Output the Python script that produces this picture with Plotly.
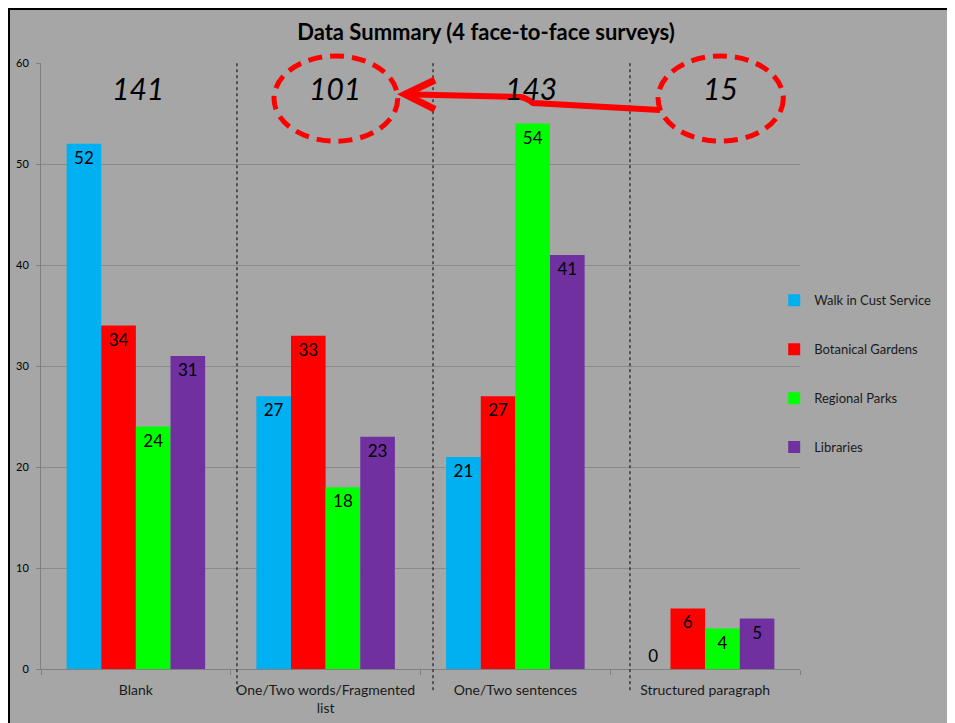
import plotly.graph_objects as go

# survey response categories and counts per location
categories = ["Blank", "One/Two words/Fragmented<br>list", "One/Two sentences", "Structured paragraph"]
walk_in = [52, 27, 21, 0]
botanical = [34, 33, 27, 6]
regional = [24, 18, 54, 4]
libraries = [31, 23, 41, 5]

series = [
    ("Walk in Cust Service", walk_in, "#00b0f0"),
    ("Botanical Gardens", botanical, "#ff0000"),
    ("Regional Parks", regional, "#00ff00"),
    ("Libraries", libraries, "#7030a0"),
]

# totals per category, shown in italics above each group
totals = [sum(v) for v in zip(walk_in, botanical, regional, libraries)]

fig = go.Figure()
for i, (name, vals, col) in enumerate(series):
    pos = ["inside" if v > 0 else "outside" for v in vals]
    fig.add_trace(go.Bar(x=categories, y=vals, name=name, marker_color=col,
                         marker_line_width=0, text=vals, textposition=pos,
                         insidetextanchor="end", textangle=0, constraintext="none",
                         textfont=dict(size=17, color="black"),
                         legendgroup="g%d" % i))

# italic totals
tot_shift = [0.01, 0.05, 0.08, 0.08]
for i, t in enumerate(totals):
    fig.add_annotation(x=i + tot_shift[i], y=0.9587, yref="paper", yanchor="middle",
                       text="<i>%d</i>" % t, showarrow=False,
                       font=dict(size=30, color="black"))

shapes = []
# black frame of the slide (page margin gives the white strip)
shapes.append(dict(type="line", xref="paper", yref="paper", x0=-0.0428, x1=-0.0428, y0=-0.2, y1=1.1,
                   line=dict(color="black", width=3)))
shapes.append(dict(type="line", xref="paper", yref="paper", x0=-0.05, x1=1.3, y0=1.090, y1=1.090,
                   line=dict(color="black", width=3)))

# dashed separators
for xp in [0.2582, 0.5165, 0.776]:
    shapes.append(dict(type="line", xref="paper", yref="paper", x0=xp, x1=xp, y0=-0.035, y1=1.0,
                       line=dict(color="black", width=1, dash="3px,3px")))

# red dashed ellipses
for x0, x1 in [(0.307, 0.470), (0.813, 0.978)]:
    shapes.append(dict(type="circle", xref="paper", yref="paper", x0=x0, x1=x1, y0=0.871, y1=1.0116,
                       line=dict(color="red", width=5, dash="14px,8px")))

# red arrow from 15 to 101
shapes.append(dict(type="path", xref="paper", yref="paper",
                   path="M 0.8155,0.9224 L 0.6482,0.934 Q 0.638,0.9435 0.6311,0.9439 L 0.4796,0.9484",
                   line=dict(color="red", width=6)))
shapes.append(dict(type="path", xref="paper", yref="paper",
                   path="M 0.5191,0.9719 L 0.4796,0.9484 L 0.5191,0.9236",
                   line=dict(color="red", width=7)))

fig.update_layout(
    width=955, height=723,
    margin=dict(l=33, r=163, t=55, b=62),
    paper_bgcolor="#a6a6a6", plot_bgcolor="#a6a6a6",
    font=dict(family="Lato, Open Sans, sans-serif", color="black"),
    title=dict(text="<b>Data Summary (4 face-to-face surveys)</b>", x=478 / 955, xanchor="center",
               y=1 - 24 / 723, yanchor="middle", font=dict(size=22, color="black")),
    barmode="group", bargap=0.27, bargroupgap=0,
    showlegend=True,
    legend=dict(x=0.966, xanchor="left", y=0.633, yanchor="top", traceorder="grouped",
                tracegroupgap=29, bgcolor="rgba(0,0,0,0)", font=dict(size=13, color="#1a1a1a")),
    shapes=shapes,
)
fig.update_xaxes(showline=True, linecolor="#808080", ticks="outside", tickson="boundaries",
                 ticklen=5, tickcolor="#808080", tickfont=dict(size=14, color="#1a1a1a"),
                 tickangle=0, ticklabelstandoff=8, showgrid=False, automargin=False)
fig.update_yaxes(range=[0, 60], dtick=10, showline=True, linecolor="#808080", ticks="outside",
                 ticklen=4, tickcolor="#808080", gridcolor="#8a8a8a", gridwidth=1,
                 tickfont=dict(size=11, color="black"), ticklabelstandoff=5, zeroline=False,
                 automargin=False)

fig.write_html("out.html")
